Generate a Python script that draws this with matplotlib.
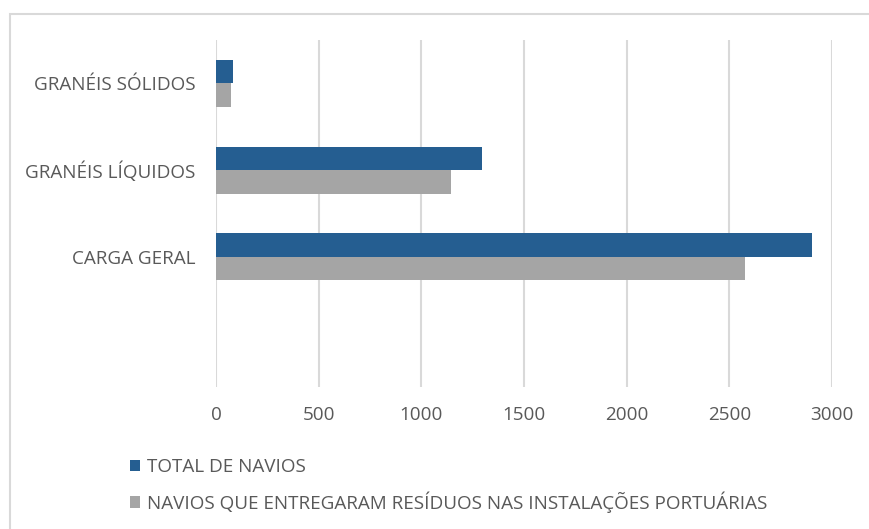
import matplotlib.pyplot as plt
from matplotlib.patches import Rectangle
import numpy as np

categories = ['GRANÉIS SÓLIDOS', 'GRANÉIS LÍQUIDOS', 'CARGA GERAL']
total_navios = [83, 1295, 2905]
entregaram = [72, 1145, 2578]
series_names = ['TOTAL DE NAVIOS',
                'NAVIOS QUE ENTREGARAM RESÍDUOS NAS INSTALAÇÕES PORTUÁRIAS']
xticks = [0, 500, 1000, 1500, 2000, 2500, 3000]

blue = '#255e91'
gray = '#a5a5a5'
txt = '#595959'

plt.rcParams['font.family'] = ['Open Sans', 'DejaVu Sans']
fs = 13.6

fig = plt.figure(figsize=(8.69, 5.29), dpi=100)
# outer chart border (extends past right/bottom edge like the crop)
fig.patches.append(Rectangle((10/869, -0.1), 1.0, 1 - 14/529 + 0.1,
                             transform=fig.transFigure, fill=False,
                             edgecolor='#d9d9d9', linewidth=1.5))

ax = fig.add_axes([216/869, 1 - 387/529, 616/869, 347/529])
y = np.arange(len(categories))
h = 0.27
ax.barh(y - h/2, total_navios, height=h, color=blue, label=series_names[0])
ax.barh(y + h/2, entregaram, height=h, color=gray, label=series_names[1])

ax.set_xlim(0, 3000)
ax.set_ylim(3.5, -0.5)
ax.set_xticks(xticks)
ax.set_xticklabels([str(t) for t in xticks], fontsize=fs, color=txt)
ax.set_yticks(y)
ax.set_yticklabels(categories, fontsize=fs, color=txt)
ax.tick_params(axis='both', length=0)
ax.tick_params(axis='x', pad=14)
ax.tick_params(axis='y', pad=15)
ax.grid(axis='x', color='#d9d9d9', linewidth=1.5)
ax.set_axisbelow(True)
for s in ax.spines.values():
    s.set_visible(False)

handles, labels = ax.get_legend_handles_labels()
fig.legend(handles, labels, loc='upper left', bbox_to_anchor=(113/869, 1 - 441/529),
           frameon=False, fontsize=fs, labelcolor=txt, handlelength=0.55,
           handleheight=0.55, handletextpad=0.35, labelspacing=0.8)

fig.savefig('out.png', dpi=100)
